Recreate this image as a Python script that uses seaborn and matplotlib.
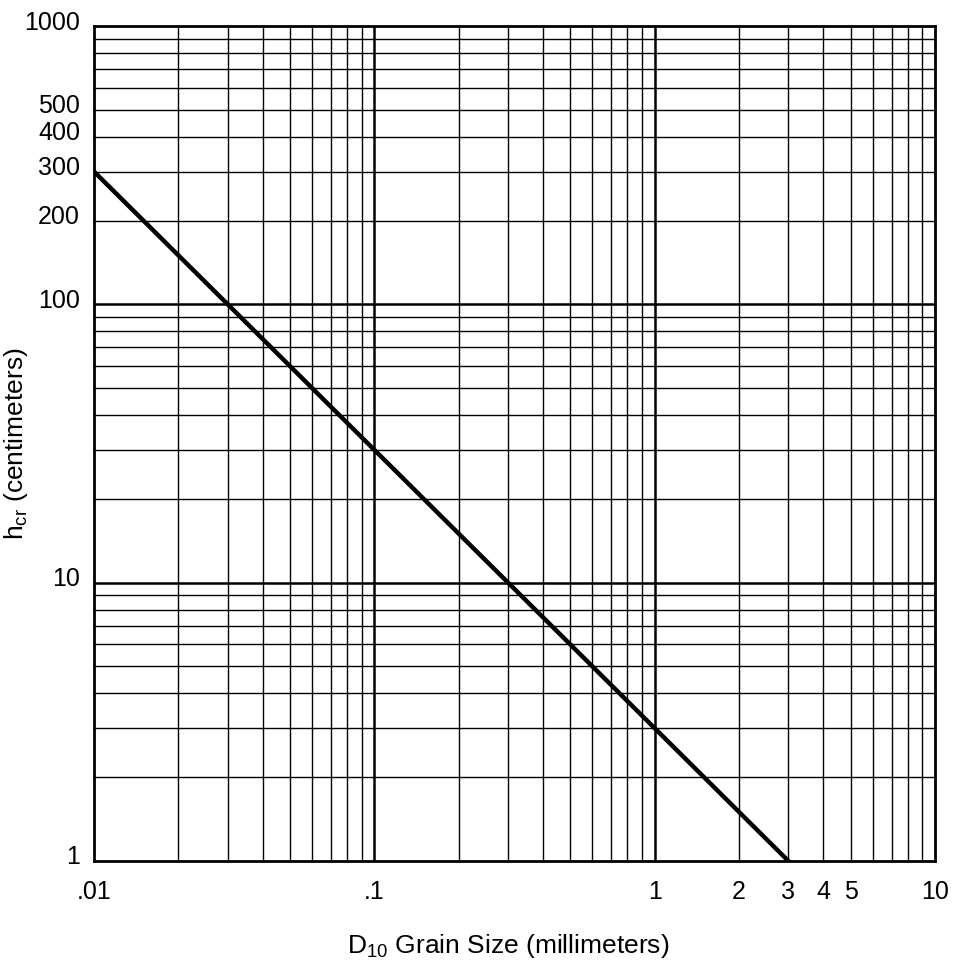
import matplotlib
matplotlib.use("Agg")
import matplotlib.pyplot as plt
import matplotlib.transforms as mtransforms
import seaborn as sns
import numpy as np
import pandas as pd
from matplotlib.ticker import FixedLocator, FixedFormatter, NullFormatter

# Data
grain_size_mm = [0.01, 3.0]
h_cr_cm = [300.0, 1.0]

x_tick_values = [0.01, 0.1, 1, 2, 3, 4, 5, 10]
x_tick_labels = [".01", ".1", "1", "2", "3", "4", "5", "10"]
y_tick_values = [1, 10, 100, 200, 300, 400, 500, 1000]
y_tick_labels = ["1", "10", "100", "200", "300", "400", "500", "1000"]

sns.set_theme(style="white")
plt.rcParams['font.family'] = ['Liberation Sans', 'DejaVu Sans']
plt.rcParams['mathtext.fontset'] = 'custom'
plt.rcParams['mathtext.rm'] = 'Liberation Sans'
plt.rcParams['mathtext.it'] = 'Liberation Sans'
plt.rcParams['mathtext.default'] = 'rm'

fig = plt.figure(figsize=(9.62, 9.68), dpi=100)
ax = fig.add_axes([94/962, 1-861/968, (935-94)/962, (861-26)/968])

df = pd.DataFrame({"D10": grain_size_mm, "hcr": h_cr_cm})
sns.lineplot(data=df, x="D10", y="hcr", ax=ax, color="black", linewidth=3.2, zorder=5)

ax.set_xscale("log")
ax.set_yscale("log")
ax.set_xlim(0.01, 10)
ax.set_ylim(1, 1000)

# grid lines: every 1..9 x decade, thin; decades thicker
decades_x = [0.01, 0.1, 1]
decades_y = [1, 10, 100]
for d in decades_x:
    for m in range(2, 10):
        ax.axvline(d * m, color="black", linewidth=1.0, zorder=2)
for d in decades_y:
    for m in range(2, 10):
        ax.axhline(d * m, color="black", linewidth=1.0, zorder=2)
for v in [0.1, 1]:
    ax.axvline(v, color="black", linewidth=1.8, zorder=2)
for v in [10, 100]:
    ax.axhline(v, color="black", linewidth=1.8, zorder=2)

ax.xaxis.set_minor_formatter(NullFormatter())
ax.yaxis.set_minor_formatter(NullFormatter())
ax.xaxis.set_major_locator(FixedLocator(x_tick_values))
ax.xaxis.set_major_formatter(FixedFormatter(x_tick_labels))
ax.yaxis.set_major_locator(FixedLocator(y_tick_values))
ax.yaxis.set_major_formatter(FixedFormatter(y_tick_labels))
ax.tick_params(axis="both", which="both", length=0, labelsize=18, colors="black")
ax.tick_params(axis="x", pad=14)
ax.tick_params(axis="y", pad=10)
ax.grid(False)

offset = mtransforms.ScaledTranslation(0, 6/100, fig.dpi_scale_trans)
for lbl in ax.get_yticklabels():
    lbl.set_transform(lbl.get_transform() + offset)

for s in ax.spines.values():
    s.set_visible(True)
    s.set_color("black")
    s.set_linewidth(2.0)

ax.set_xlabel(r"D$_{\mathrm{10}}$ Grain Size (millimeters)", fontsize=19, color="black")
ax.set_ylabel(r"h$_{\mathrm{cr}}$ (centimeters)", fontsize=19, color="black")
ax.xaxis.set_label_coords(0.492, -0.085)
ax.yaxis.set_label_coords(-0.076, 0.5)

fig.savefig("out.png", dpi=100, facecolor="white")
